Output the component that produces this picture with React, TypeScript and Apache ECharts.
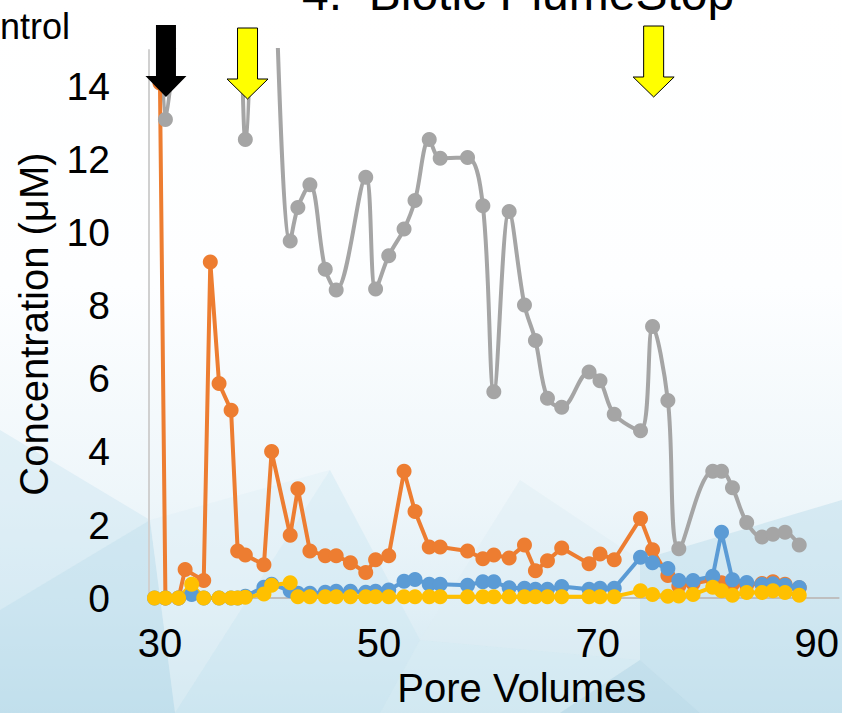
import React, { useEffect, useRef } from 'react';
import * as echarts from 'echarts';

// Pore volumes (x) shared by all series
const poreVolumes = [
  29.5, 30.0, 30.5, 31.7, 32.3, 32.9, 34.0, 34.6, 35.4, 36.5, 37.1, 37.8, 39.5, 40.2,
  41.9, 42.6, 43.7, 45.1, 46.1, 47.4, 48.8, 49.7, 50.9, 52.3, 53.3, 54.6, 55.6, 58.1,
  59.5, 60.5, 61.9, 63.3, 64.3, 65.4, 66.7, 69.2, 70.2, 71.5, 73.9, 75.0, 76.4, 77.4,
  78.7, 80.5, 81.3, 82.3, 83.6, 85.0, 86.0, 87.1, 88.4,
];

const grayValues = [
  null, 19, 13.1, 16.5, 20, 22, 24, 25, 24, 22, 20, 12.55, 27, 20,
  9.77, 10.69, 11.31, 9.0, 8.43, null, 11.52, 8.46, 9.37, 10.1, 10.88, 12.55, 12.04, 12.06,
  10.74, 5.65, 10.58, 8.02, 7.05, 5.47, 5.22, 6.19, 5.95, 5.03, 4.58, 7.43, 5.41, 1.35,
  null, 3.47, 3.47, 3.02, 2.07, 1.67, 1.75, 1.8, 1.45,
];

const orangeValues = [
  null, 14.1, 0, 0, 0.78, null, 0.48, 9.2, 5.87, 5.14, 1.29, 1.18, 0.91, 4.01,
  1.72, 2.99, 1.29, 1.16, 1.16, 0.97, 0.7, 1.05, 1.16, 3.47, 2.37, 1.4, 1.4, 1.29,
  1.08, 1.18, 1.1, 1.45, 0.75, 1.02, 1.37, 0.94, 1.21, 1.05, 2.18, 1.32, 0.62, 0.33,
  0.4, 0.5, 0.42, 0.38, 0.36, 0.4, 0.45, 0.38, 0.28,
];

const blueValues = [
  0, null, 0, 0, null, 0.1, 0, null, 0, 0, 0, 0.05, 0.3, 0.38,
  0.2, 0.13, 0.13, 0.16, 0.19, 0.19, 0.16, 0.19, 0.22, 0.46, 0.51, 0.38, 0.38, 0.35,
  0.45, 0.45, 0.28, 0.27, 0.24, 0.24, 0.32, 0.24, 0.27, 0.27, 1.12, 0.97, 0.81, 0.48,
  0.48, 0.6, 1.8, 0.5, 0.43, 0.37, 0.39, 0.35, 0.29,
];

const yellowValues = [
  0, null, 0, 0, null, 0.38, 0, null, 0, 0, 0, 0.02, 0.11, 0.35,
  0.42, 0.04, 0.04, 0.04, 0.04, 0.04, 0.04, 0.04, 0.04, 0.04, 0.04, 0.04, 0.04, 0.04,
  0.04, 0.04, 0.04, 0.04, 0.04, 0.04, 0.04, 0.04, 0.04, 0.04, 0.2, 0.1, 0.05, 0.06,
  0.1, 0.3, 0.2, 0.08, 0.15, 0.15, 0.2, 0.15, 0.08,
];

const xTickLabels = [30, 50, 70, 90];
const yTickLabels = [0, 2, 4, 6, 8, 10, 12, 14];

// arrows: pore volume where each arrow points, fill colour
const arrowPositions = [30.55, 38.0, 75.1];
const arrowColors = ['#000000', '#FFFF00', '#FFFF00'];

const FONT = 'Liberation Sans, Arial, Helvetica, sans-serif';

const toPairs = (vals: (number | null)[]) =>
  poreVolumes
    .map((x, i) => [x, vals[i]])
    .filter((p) => p[1] !== null && p[1] !== undefined);

export default function App() {
  const ref = useRef<HTMLDivElement>(null);

  useEffect(() => {
    if (!ref.current) return;
    const chart = echarts.init(ref.current, undefined, { renderer: 'svg' });

    const mkSeries = (name: string, color: string, vals: (number | null)[], smooth: number | boolean) => ({
      name,
      type: 'line',
      data: toPairs(vals),
      smooth,
      symbol: 'circle',
      symbolSize: 15,
      showSymbol: true,
      clip: true,
      lineStyle: { color, width: 4 },
      itemStyle: { color, borderWidth: 0 },
      emphasis: { disabled: true },
    });

    chart.setOption({
      animation: false,
      backgroundColor: {
        type: 'linear',
        x: 0, y: 0, x2: 0, y2: 1,
        colorStops: [
          { offset: 0, color: '#ffffff' },
          { offset: 0.4, color: '#fdfeff' },
          { offset: 0.7, color: '#eef6fa' },
          { offset: 0.86, color: '#e0eff6' },
          { offset: 1, color: '#cde5ef' },
        ],
      },
      grid: { left: 149, right: 0, top: 50, bottom: 107, containLabel: false },
      xAxis: {
        type: 'value',
        min: 29,
        max: 92,
        interval: 1,
        name: 'Pore Volumes',
        nameLocation: 'middle',
        nameGap: 62,
        nameTextStyle: { fontFamily: FONT, fontSize: 40, color: '#000', padding: [0, 0, 0, 56] },
        axisLine: { show: true, onZero: false, lineStyle: { color: '#bfbfbf', width: 2 } },
        axisTick: { show: false },
        splitLine: { show: false },
        axisLabel: {
          interval: 0,
          margin: 25,
          fontFamily: FONT,
          fontSize: 40,
          color: '#000',
          formatter: (v: number) => (xTickLabels.includes(Math.round(v)) && Math.abs(v - Math.round(v)) < 1e-6 ? String(Math.round(v)) : ''),
        },
      },
      yAxis: {
        type: 'value',
        min: 0,
        max: 15,
        interval: 1,
        name: 'Concentration (\u03bcM)',
        nameLocation: 'middle',
        nameRotate: 90,
        nameGap: 95,
        nameTextStyle: { fontFamily: FONT, fontSize: 40, color: '#000' },
        axisLine: { show: true, lineStyle: { color: '#d0d0d0', width: 2 } },
        axisTick: { show: false },
        splitLine: { show: false },
        axisLabel: {
          interval: 0,
          margin: 39,
          fontFamily: FONT,
          fontSize: 39,
          color: '#000',
          formatter: (v: number) => (yTickLabels.includes(v) ? String(v) : ''),
        },
      },
      series: [
        mkSeries('Gray', '#A5A5A5', grayValues, 0.35),
        mkSeries('Orange', '#ED7D31', orangeValues, false),
        mkSeries('Blue', '#5B9BD5', blueValues, false),
        mkSeries('Yellow', '#FFC000', yellowValues, false),
      ],
    });

    const arrowTops = [25, 28, 26];
    const arrowHeads = [76, 79, 77];
    const arrowTips = [97, 99, 97];
    const arrows = arrowPositions.map((pv, i) => {
      const cx = chart.convertToPixel({ xAxisIndex: 0 }, pv) as number;
      const t = arrowTops[i];
      const h = arrowHeads[i];
      const tip = arrowTips[i];
      return {
        type: 'polygon',
        z: 100,
        silent: true,
        shape: {
          points: [
            [cx - 10, t], [cx + 10, t], [cx + 10, h], [cx + 20.5, h],
            [cx, tip], [cx - 20.5, h], [cx - 10, h],
          ],
        },
        style: {
          fill: arrowColors[i],
          stroke: '#000',
          lineWidth: i === 0 ? 0 : 1,
        },
      };
    });

    const bgPolys = [
      { pts: [[0, 430], [150, 520], [0, 610]], c: 'rgba(200,228,240,0.4)' },
      { pts: [[0, 610], [150, 520], [175, 713], [0, 713]], c: 'rgba(182,218,234,0.5)' },
      { pts: [[150, 520], [330, 470], [175, 713]], c: 'rgba(225,239,246,0.45)' },
      { pts: [[175, 713], [330, 470], [420, 640], [380, 713]], c: 'rgba(205,230,241,0.45)' },
      { pts: [[380, 713], [420, 640], [640, 660], [560, 713]], c: 'rgba(214,235,244,0.5)' },
      { pts: [[560, 713], [640, 660], [700, 713]], c: 'rgba(178,214,230,0.5)' },
      { pts: [[640, 560], [842, 500], [842, 713], [700, 713], [640, 660]], c: 'rgba(190,222,236,0.5)' },
      { pts: [[420, 640], [520, 480], [640, 560], [640, 660]], c: 'rgba(222,238,245,0.45)' },
    ].map((p) => ({
      type: 'polygon',
      z: -10,
      silent: true,
      shape: { points: p.pts },
      style: { fill: p.c },
    }));

    chart.setOption({
      graphic: {
        elements: [
          ...bgPolys,
          {
            type: 'text',
            z: 100,
            x: 302,
            y: 17,
            silent: true,
            style: {
              text: '4.  Biotic PlumeStop',
              fontFamily: FONT,
              fontSize: 48,
              fill: '#000',
              textAlign: 'left',
              textVerticalAlign: 'bottom',
            },
          },
          {
            type: 'text',
            z: 100,
            x: 70,
            y: 44,
            silent: true,
            style: {
              text: 'Control',
              fontFamily: FONT,
              fontSize: 36,
              fill: '#000',
              textAlign: 'right',
              textVerticalAlign: 'bottom',
            },
          },
          ...arrows,
        ],
      },
    });

    return () => chart.dispose();
  }, []);

  return (
    <div
      ref={ref}
      style={{ position: 'absolute', left: 0, top: 0, width: 842, height: 713, overflow: 'hidden' }}
    />
  );
}
